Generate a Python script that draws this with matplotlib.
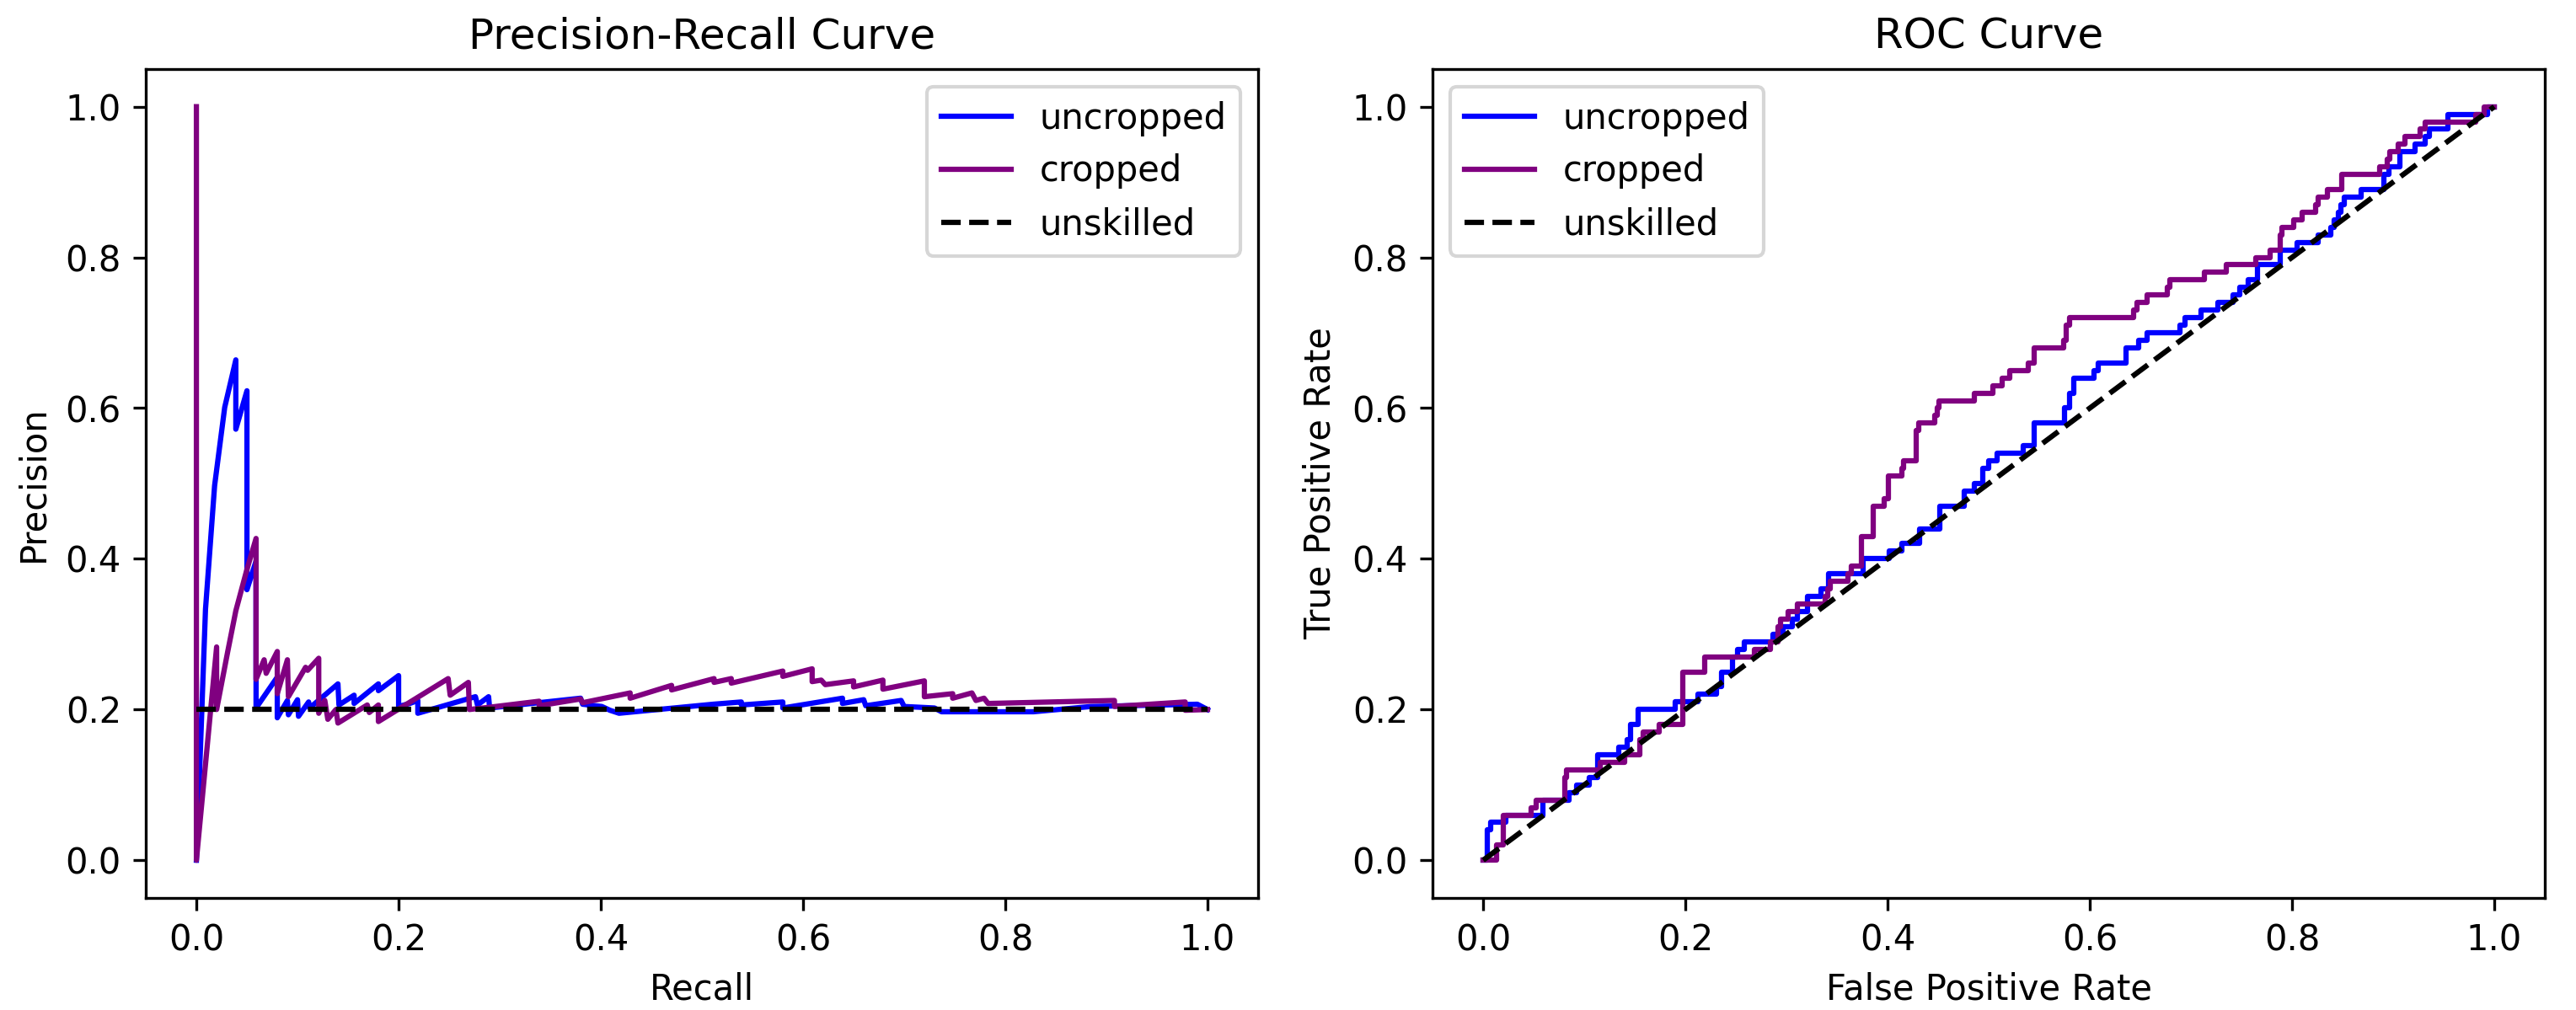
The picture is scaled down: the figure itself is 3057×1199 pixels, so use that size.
"""Precision-recall and ROC curves for the uncropped vs cropped classifier."""

import matplotlib

matplotlib.use("Agg")
import matplotlib.pyplot as plt

# Precision-recall curve, uncropped images (recall, precision read along the path)
pr_uncropped_recall = [
    0.000, 0.009, 0.018, 0.028, 0.039, 0.039, 0.050, 0.050, 0.059, 0.059,
    0.080, 0.080, 0.090, 0.091, 0.100, 0.101, 0.111, 0.112, 0.140, 0.141,
    0.156, 0.156, 0.180, 0.180, 0.200, 0.200, 0.211, 0.219, 0.219, 0.276,
    0.278, 0.289, 0.290, 0.380, 0.382, 0.401, 0.409, 0.418, 0.511, 0.539,
    0.539, 0.580, 0.580, 0.639, 0.639, 0.660, 0.662, 0.697, 0.700, 0.730,
    0.737, 0.828, 0.885, 0.990, 1.000,
]
pr_uncropped_precision = [
    0.000, 0.333, 0.497, 0.601, 0.664, 0.572, 0.623, 0.359, 0.397, 0.202,
    0.243, 0.189, 0.212, 0.193, 0.213, 0.191, 0.210, 0.202, 0.234, 0.206,
    0.219, 0.208, 0.234, 0.225, 0.245, 0.204, 0.208, 0.212, 0.195, 0.217,
    0.206, 0.217, 0.202, 0.215, 0.207, 0.204, 0.199, 0.195, 0.207, 0.210,
    0.206, 0.210, 0.202, 0.215, 0.208, 0.213, 0.205, 0.212, 0.204, 0.202,
    0.197, 0.197, 0.204, 0.207, 0.200,
]

# Precision-recall curve, cropped images
pr_cropped_recall = [
    0.000, 0.000, 0.020, 0.020, 0.031, 0.039, 0.050, 0.059, 0.059, 0.067,
    0.069, 0.080, 0.080, 0.090, 0.091, 0.108, 0.110, 0.121, 0.121, 0.127,
    0.130, 0.138, 0.140, 0.169, 0.171, 0.180, 0.180, 0.249, 0.251, 0.269,
    0.270, 0.290, 0.339, 0.339, 0.380, 0.382, 0.429, 0.429, 0.470, 0.470,
    0.512, 0.512, 0.529, 0.529, 0.580, 0.580, 0.609, 0.609, 0.618, 0.622,
    0.650, 0.650, 0.679, 0.679, 0.720, 0.720, 0.748, 0.748, 0.767, 0.771,
    0.779, 0.783, 0.908, 0.908, 0.978, 0.978, 1.000,
]
pr_cropped_precision = [
    1.000, 0.000, 0.283, 0.200, 0.277, 0.331, 0.386, 0.427, 0.240, 0.266,
    0.248, 0.277, 0.221, 0.266, 0.217, 0.256, 0.252, 0.268, 0.195, 0.212,
    0.187, 0.200, 0.182, 0.206, 0.196, 0.206, 0.184, 0.241, 0.219, 0.236,
    0.200, 0.203, 0.211, 0.205, 0.214, 0.209, 0.222, 0.215, 0.232, 0.226,
    0.241, 0.236, 0.241, 0.235, 0.251, 0.244, 0.254, 0.237, 0.239, 0.233,
    0.238, 0.230, 0.239, 0.227, 0.238, 0.217, 0.221, 0.215, 0.222, 0.212,
    0.215, 0.208, 0.212, 0.204, 0.210, 0.199, 0.200,
]

pr_unskilled_recall = [0.0, 1.0]
pr_unskilled_precision = [0.2, 0.2]

# ROC curve corners (fpr where the curve rises, tpr after the rise)
roc_uncropped_fpr = [
    0.000, 0.004, 0.007, 0.022, 0.059, 0.085, 0.092, 0.105, 0.113, 0.134,
    0.142, 0.146, 0.153, 0.190, 0.212, 0.231, 0.236, 0.247, 0.252, 0.258,
    0.287, 0.297, 0.306, 0.311, 0.321, 0.334, 0.342, 0.376, 0.402, 0.414,
    0.432, 0.452, 0.476, 0.486, 0.494, 0.500, 0.508, 0.534, 0.545, 0.575,
    0.580, 0.584, 0.604, 0.608, 0.636, 0.648, 0.657, 0.689, 0.694, 0.710,
    0.727, 0.742, 0.748, 0.757, 0.766, 0.788, 0.805, 0.826, 0.838, 0.842,
    0.846, 0.848, 0.852, 0.868, 0.891, 0.896, 0.907, 0.922, 0.932, 0.936,
    0.954, 0.993, 1.000,
]
roc_uncropped_tpr = [
    0.00, 0.04, 0.05, 0.06, 0.08, 0.09, 0.10, 0.11, 0.14, 0.15,
    0.16, 0.18, 0.20, 0.21, 0.22, 0.23, 0.25, 0.27, 0.28, 0.29,
    0.30, 0.31, 0.32, 0.33, 0.35, 0.36, 0.38, 0.40, 0.41, 0.42,
    0.44, 0.47, 0.49, 0.50, 0.52, 0.53, 0.54, 0.55, 0.58, 0.60,
    0.62, 0.64, 0.65, 0.66, 0.68, 0.69, 0.70, 0.71, 0.72, 0.73,
    0.74, 0.75, 0.76, 0.77, 0.79, 0.81, 0.82, 0.83, 0.84, 0.85,
    0.86, 0.87, 0.88, 0.89, 0.91, 0.92, 0.94, 0.95, 0.96, 0.97,
    0.99, 1.00, 1.00,
]

roc_cropped_fpr = [
    0.000, 0.013, 0.020, 0.047, 0.052, 0.081, 0.082, 0.116, 0.140, 0.155,
    0.158, 0.174, 0.197, 0.219, 0.268, 0.284, 0.292, 0.294, 0.302, 0.311,
    0.338, 0.341, 0.343, 0.361, 0.364, 0.374, 0.386, 0.397, 0.401, 0.414,
    0.416, 0.428, 0.431, 0.447, 0.449, 0.451, 0.486, 0.504, 0.513, 0.521,
    0.539, 0.545, 0.574, 0.577, 0.580, 0.643, 0.647, 0.657, 0.677, 0.679,
    0.713, 0.735, 0.764, 0.778, 0.788, 0.790, 0.802, 0.810, 0.823, 0.826,
    0.835, 0.849, 0.887, 0.894, 0.897, 0.905, 0.912, 0.927, 0.932, 0.982,
    0.990, 1.000,
]
roc_cropped_tpr = [
    0.00, 0.02, 0.06, 0.07, 0.08, 0.11, 0.12, 0.13, 0.14, 0.16,
    0.17, 0.18, 0.25, 0.27, 0.28, 0.29, 0.31, 0.32, 0.33, 0.34,
    0.35, 0.36, 0.37, 0.38, 0.39, 0.43, 0.47, 0.48, 0.51, 0.52,
    0.53, 0.57, 0.58, 0.59, 0.60, 0.61, 0.62, 0.63, 0.64, 0.65,
    0.66, 0.68, 0.69, 0.71, 0.72, 0.73, 0.74, 0.75, 0.76, 0.77,
    0.78, 0.79, 0.80, 0.81, 0.83, 0.84, 0.85, 0.86, 0.87, 0.88,
    0.89, 0.91, 0.92, 0.93, 0.94, 0.95, 0.96, 0.97, 0.98, 0.99,
    1.00, 1.00,
]

roc_unskilled_fpr = [0.0, 1.0]
roc_unskilled_tpr = [0.0, 1.0]


def plot_curves(output_path: str) -> None:
    fig, (ax_pr, ax_roc) = plt.subplots(1, 2, figsize=(10.193, 3.997))
    fig.subplots_adjust(left=0.0566, right=0.9876, bottom=0.111, top=0.9316,
                        wspace=0.157)

    # precision-recall
    ax_pr.plot(pr_uncropped_recall, pr_uncropped_precision, color="blue",
               label="uncropped")
    ax_pr.plot(pr_cropped_recall, pr_cropped_precision, color="purple",
               label="cropped")
    ax_pr.plot(pr_unskilled_recall, pr_unskilled_precision, linestyle="--",
               color="black", label="unskilled")
    ax_pr.set_title("Precision-Recall Curve")
    ax_pr.set_xlabel("Recall")
    ax_pr.set_ylabel("Precision")
    ax_pr.legend(loc="upper right")

    # ROC
    ax_roc.plot(roc_uncropped_fpr, roc_uncropped_tpr, color="blue",
                drawstyle="steps-post", label="uncropped")
    ax_roc.plot(roc_cropped_fpr, roc_cropped_tpr, color="purple",
                drawstyle="steps-post", label="cropped")
    ax_roc.plot(roc_unskilled_fpr, roc_unskilled_tpr, linestyle="--",
                color="black", label="unskilled")
    ax_roc.set_title("ROC Curve")
    ax_roc.set_xlabel("False Positive Rate")
    ax_roc.set_ylabel("True Positive Rate")
    ax_roc.legend(loc="upper left")

    fig.savefig(output_path, dpi=300)
    plt.close(fig)


if __name__ == "__main__":
    plot_curves("out.png")
